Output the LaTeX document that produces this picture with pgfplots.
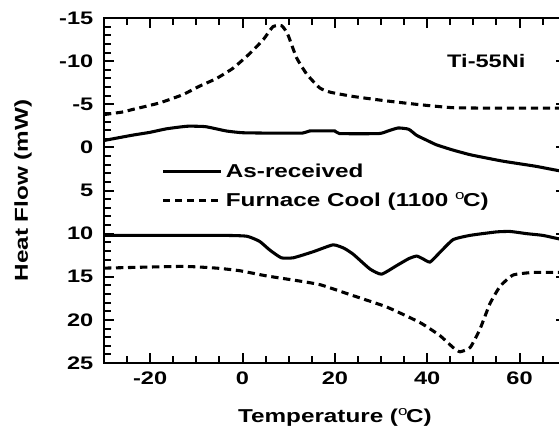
\documentclass[border=0pt]{standalone}
\usepackage{pgfplots}
\pgfplotsset{compat=1.18}
\usepackage{fontspec}
\setmainfont{Liberation Sans}[FakeStretch=1.3]
\newcommand{\tf}{\fontsize{13.6}{16}\selectfont\bfseries}
\newcommand{\lf}{\fontsize{14}{17}\selectfont\bfseries}
\begin{document}
\begin{tikzpicture}
\begin{axis}[
  scale only axis,
  width=346.3pt, height=258.75pt,
  xmin=-30, xmax=70, ymin=-15, ymax=25,
  y dir=reverse,
  axis line style={line width=1.5pt},
  xtick={-20,0,...,60},
  minor xtick={-30,-25,...,70},
  ytick={-15,-10,...,25},
  minor ytick={-15,-14,...,25},
  tick align=inside,
  major tick length=7.5pt,
  minor tick length=5pt,
  every tick/.style={line width=1.5pt, black},
  /pgf/number format/assume math mode=true,
  tick label style={font=\tf},
  yticklabel style={xshift=-4.5pt},
  xticklabel style={yshift=-3pt},
  xlabel={Temperature ($^{\mathrm{o}}$C)},
  ylabel={Heat Flow (mW)},
  label style={font=\lf},
  xlabel style={at={(axis description cs:0.5,-0.159)}, anchor=center},
  ylabel style={at={(axis description cs:-0.1754,0.5)}, anchor=center},
  legend image code/.code={\draw[#1] (0pt,0pt) -- (43.5pt,0pt);},
  legend style={at={(axis cs:-17.6,1.45)}, anchor=north west, draw=none, fill=none,
    font=\lf, row sep=5pt, inner sep=0pt, nodes={inner sep=2.5pt}},
  legend cell align=left,
]
\addplot[black, line width=2.3pt, smooth, tension=0.3] coordinates {
(-30,-0.8) (-24,-1.4) (-20,-1.75) (-16.5,-2.15) (-12,-2.45) (-8,-2.4) (-3.5,-1.9) (0,-1.7) (5,-1.66) (13,-1.66) (14.5,-1.9) (20,-1.9) (21,-1.6) (29.5,-1.6) (31.5,-1.9) (33.7,-2.25) (36,-2.1) (37.7,-1.4) (40,-0.8) (42,-0.3) (45.5,0.3) (49.3,0.85) (53,1.25) (56.4,1.6) (60,1.9) (63.6,2.2) (67,2.55) (70,2.85)
};
\addlegendentry{As-received}
\addplot[black, line width=2.3pt, dash pattern=on 5.5pt off 3.5pt, smooth, tension=0.3] coordinates {
(-30,-3.8) (-26,-4.1) (-24,-4.37) (-18,-5.15) (-13,-6.1) (-9.3,-7.1) (-5.6,-8.0) (-2,-9.2) (1.6,-10.9) (4.5,-12.5) (6.6,-14.0) (8.5,-14.1) (9.8,-13.1) (11.7,-10.4) (13.9,-8.5) (16.7,-6.9) (19,-6.4) (24,-5.9) (31,-5.4) (38.4,-4.95) (45.6,-4.6) (55,-4.55) (70,-4.55)
};
\addlegendentry{Furnace Cool (1100 $^{\mathrm{o}}$C)}
\addplot[black, line width=2.3pt, smooth, tension=0.3, forget plot] coordinates {
(-30,10.2) (-5,10.2) (0.9,10.3) (3.7,10.9) (5.9,11.9) (8.4,12.8) (11,12.8) (15.3,12.1) (19.6,11.3) (22,11.7) (24,12.4) (27.6,14.1) (30.1,14.7) (33.4,13.7) (36,12.9) (37.7,12.6) (39,12.9) (40.6,13.3) (42.7,12.2) (45.6,10.7) (49.3,10.2) (55,9.8) (58,9.75) (61.5,10.0) (65,10.2) (68.5,10.6) (70,10.7)
};
\addplot[black, line width=2.3pt, dash pattern=on 5.5pt off 3.5pt, smooth, tension=0.3, forget plot] coordinates {
(-30,14.0) (-13,13.8) (-5.6,14.0) (-0.6,14.3) (5.2,14.9) (12.4,15.5) (17,15.95) (24,17.2) (31.2,18.5) (38.4,20.3) (42.7,21.8) (45.6,23.2) (47.1,23.7) (49.3,23.2) (51.4,21.1) (53.6,18.1) (55.8,16.1) (58.6,14.8) (63,14.5) (70,14.5)
};
\node[font=\tf] at (axis cs:52.8,-10) {Ti-55Ni};
\end{axis}
\pgfresetboundingbox
\path[use as bounding box] (-78pt,-54pt) rectangle (341.25pt,272.25pt);
\end{tikzpicture}
\end{document}
